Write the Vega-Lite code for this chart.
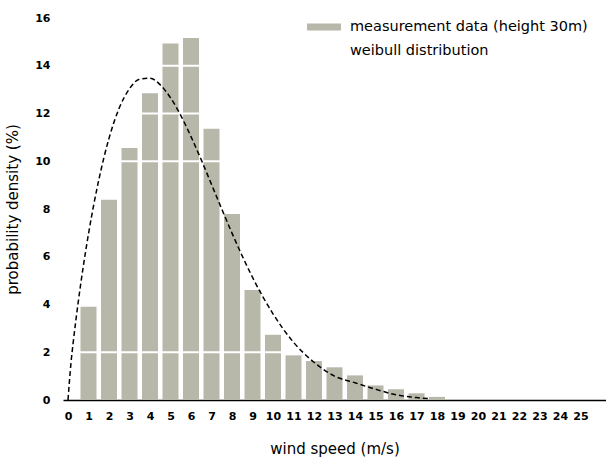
{
  "$schema": "https://vega.github.io/schema/vega-lite/v6.json",
  "width": 543,
  "height": 382,
  "autosize": {"type": "none"},
  "padding": {"left": 63, "top": 18, "right": 0, "bottom": 62},
  "background": "white",
  "config": {"view": {"stroke": null}, "font": "DejaVu Sans"},
  "datasets": {
    "bars": [
      {"speed": 1, "density": 3.91, "series": "measurement data (height 30m)"},
      {"speed": 2, "density": 8.39, "series": "measurement data (height 30m)"},
      {"speed": 3, "density": 10.55, "series": "measurement data (height 30m)"},
      {"speed": 4, "density": 12.85, "series": "measurement data (height 30m)"},
      {"speed": 5, "density": 14.93, "series": "measurement data (height 30m)"},
      {"speed": 6, "density": 15.16, "series": "measurement data (height 30m)"},
      {"speed": 7, "density": 11.36, "series": "measurement data (height 30m)"},
      {"speed": 8, "density": 7.79, "series": "measurement data (height 30m)"},
      {"speed": 9, "density": 4.61, "series": "measurement data (height 30m)"},
      {"speed": 10, "density": 2.73, "series": "measurement data (height 30m)"},
      {"speed": 11, "density": 1.87, "series": "measurement data (height 30m)"},
      {"speed": 12, "density": 1.63, "series": "measurement data (height 30m)"},
      {"speed": 13, "density": 1.37, "series": "measurement data (height 30m)"},
      {"speed": 14, "density": 1.03, "series": "measurement data (height 30m)"},
      {"speed": 15, "density": 0.61, "series": "measurement data (height 30m)"},
      {"speed": 16, "density": 0.45, "series": "measurement data (height 30m)"},
      {"speed": 17, "density": 0.28, "series": "measurement data (height 30m)"},
      {"speed": 18, "density": 0.13, "series": "measurement data (height 30m)"}
    ],
    "curve": [
      {"speed": 0, "density": 0, "series": "weibull distribution"},
      {"speed": 0.15, "density": 1.59, "series": "weibull distribution"},
      {"speed": 0.25, "density": 2.38, "series": "weibull distribution"},
      {"speed": 0.5, "density": 4.11, "series": "weibull distribution"},
      {"speed": 0.75, "density": 5.62, "series": "weibull distribution"},
      {"speed": 1, "density": 6.96, "series": "weibull distribution"},
      {"speed": 1.5, "density": 9.21, "series": "weibull distribution"},
      {"speed": 2, "density": 10.96, "series": "weibull distribution"},
      {"speed": 2.5, "density": 12.23, "series": "weibull distribution"},
      {"speed": 3, "density": 13.04, "series": "weibull distribution"},
      {"speed": 3.5, "density": 13.44, "series": "weibull distribution"},
      {"speed": 4, "density": 13.48, "series": "weibull distribution"},
      {"speed": 4.5, "density": 13.2, "series": "weibull distribution"},
      {"speed": 5, "density": 12.66, "series": "weibull distribution"},
      {"speed": 5.5, "density": 11.92, "series": "weibull distribution"},
      {"speed": 6, "density": 11.03, "series": "weibull distribution"},
      {"speed": 6.5, "density": 10.06, "series": "weibull distribution"},
      {"speed": 7, "density": 9.03, "series": "weibull distribution"},
      {"speed": 7.5, "density": 8.0, "series": "weibull distribution"},
      {"speed": 8, "density": 6.99, "series": "weibull distribution"},
      {"speed": 9, "density": 5.14, "series": "weibull distribution"},
      {"speed": 10, "density": 3.61, "series": "weibull distribution"},
      {"speed": 11, "density": 2.42, "series": "weibull distribution"},
      {"speed": 12, "density": 1.58, "series": "weibull distribution"},
      {"speed": 13, "density": 1.0, "series": "weibull distribution"},
      {"speed": 14, "density": 0.72, "series": "weibull distribution"},
      {"speed": 15, "density": 0.45, "series": "weibull distribution"},
      {"speed": 16, "density": 0.22, "series": "weibull distribution"},
      {"speed": 17, "density": 0.1, "series": "weibull distribution"},
      {"speed": 17.6, "density": 0.06, "series": "weibull distribution"}
    ],
    "grid": [{"v": 2}, {"v": 10}, {"v": 12}, {"v": 14}]
  },
  "encoding": {
    "x": {
      "field": "speed", "type": "quantitative",
      "scale": {"domain": [0, 26], "nice": false, "zero": true},
      "axis": {
        "values": [0,1,2,3,4,5,6,7,8,9,10,11,12,13,14,15,16,17,18,19,20,21,22,23,24,25],
        "ticks": false, "grid": false,
        "domainColor": "black", "domainWidth": 1.5,
        "labelFont": "DejaVu Sans", "labelFontWeight": "bold", "labelFontSize": 11,
        "labelColor": "black", "labelPadding": 10, "labelFlush": false, "labelOverlap": false,
        "labelBound": false,
        "title": "wind speed (m/s)", "titleFont": "DejaVu Sans", "titleFontSize": 15,
        "titleFontWeight": "normal", "titleColor": "black", "titlePadding": 20
      }
    },
    "y": {
      "field": "density", "type": "quantitative",
      "scale": {"domain": [0, 16], "nice": false},
      "axis": {
        "values": [0,2,4,6,8,10,12,14,16],
        "ticks": false, "grid": false, "domain": false,
        "labelFont": "DejaVu Sans", "labelFontWeight": "bold", "labelFontSize": 11,
        "labelColor": "black", "labelPadding": 13, "labelFlush": false, "labelOverlap": false,
        "title": "probability density (%)", "titleFont": "DejaVu Sans", "titleFontSize": 15,
        "titleFontWeight": "normal", "titleColor": "black", "titlePadding": 14
      }
    }
  },
  "layer": [
    {
      "data": {"name": "bars"},
      "mark": {"type": "bar", "size": 16},
      "encoding": {
        "color": {
          "field": "series", "type": "nominal",
          "scale": {
            "domain": ["measurement data (height 30m)", "weibull distribution"],
            "range": ["#b7b7aa", "#000000"]
          },
          "legend": {
            "orient": "none", "legendX": 244, "legendY": -8,
            "title": null,
            "symbolType": "M-1,-0.2H1V0.2H-1Z", "symbolSize": 1156, "symbolStrokeWidth": 0,
            "labelFont": "DejaVu Sans", "labelFontSize": 14.5, "labelColor": "black",
            "labelLimit": 400,
            "labelOffset": 9, "rowPadding": -4, "padding": 0,
            "encode": {
              "symbols": {
                "update": {
                  "fill": {"value": "#b7b7aa"},
                  "opacity": [{"test": "datum.value === 'weibull distribution'", "value": 0}, {"value": 1}]
                }
              }
            }
          }
        }
      }
    },
    {
      "data": {"name": "grid"},
      "mark": {"type": "rule", "color": "white", "strokeWidth": 2},
      "encoding": {"x": null, "y": {"field": "v", "type": "quantitative"}}
    },
    {
      "data": {"name": "curve"},
      "mark": {"type": "line", "strokeDash": [5, 3], "strokeWidth": 1.5, "interpolate": "monotone"},
      "encoding": {
        "color": {"field": "series", "type": "nominal"}
      }
    }
  ]
}
